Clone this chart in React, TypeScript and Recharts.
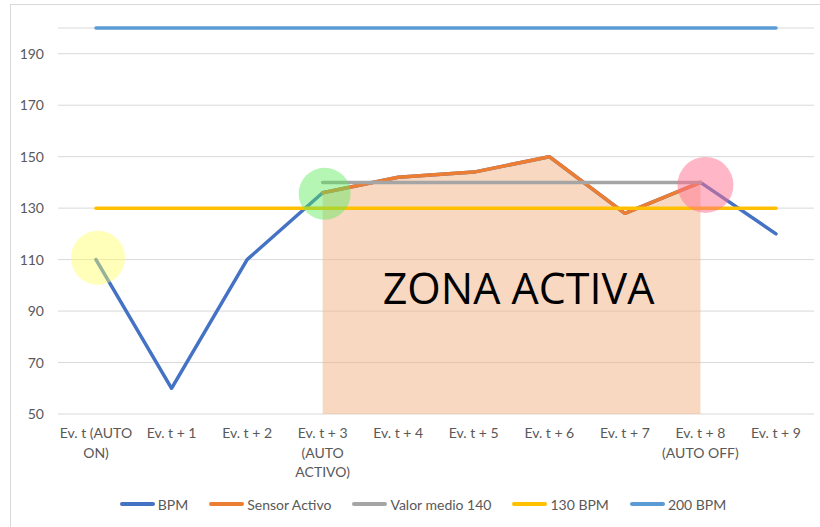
import React from 'react';
import {
  ComposedChart,
  Line,
  Area,
  XAxis,
  YAxis,
  CartesianGrid,
  ReferenceDot,
  ReferenceArea,
  Legend,
} from 'recharts';

const categories = [
  'Ev. t (AUTO ON)',
  'Ev. t + 1',
  'Ev. t + 2',
  'Ev. t + 3 (AUTO ACTIVO)',
  'Ev. t + 4',
  'Ev. t + 5',
  'Ev. t + 6',
  'Ev. t + 7',
  'Ev. t + 8 (AUTO OFF)',
  'Ev. t + 9',
];

const tickLines: string[][] = [
  ['Ev. t (AUTO', 'ON)'],
  ['Ev. t + 1'],
  ['Ev. t + 2'],
  ['Ev. t + 3', '(AUTO', 'ACTIVO)'],
  ['Ev. t + 4'],
  ['Ev. t + 5'],
  ['Ev. t + 6'],
  ['Ev. t + 7'],
  ['Ev. t + 8', '(AUTO OFF)'],
  ['Ev. t + 9'],
];

const bpm = [110, 60, 110, 136, 142, 144, 150, 128, 140, 120];
const sensorActivo = [null, null, null, 136, 142, 144, 150, 128, 140, null];
const valorMedio = [null, null, null, 140, 140, 140, 140, 140, 140, null];
const linea130 = [130, 130, 130, 130, 130, 130, 130, 130, 130, 130];
const linea200 = [200, 200, 200, 200, 200, 200, 200, 200, 200, 200];

const yTicks = [50, 70, 90, 110, 130, 150, 170, 190];

const seriesNames = ['BPM', 'Sensor Activo', 'Valor medio 140', '130 BPM', '200 BPM'];
const seriesColors = ['#4472C4', '#ED7D31', '#A5A5A5', '#FFC000', '#5B9BD5'];

const zoneLabel = 'ZONA ACTIVA';

const data = categories.map((c, i) => ({
  cat: c,
  bpm: bpm[i],
  sensor: sensorActivo[i],
  medio: valorMedio[i],
  l130: linea130[i],
  l200: linea200[i],
}));

const FONT = 'Lato, "Open Sans", sans-serif';
const TEXT_COLOR = '#595959';
const LINE_W = 3.5;

const XTick = (props: any) => {
  const { x, y, payload } = props;
  const idx = categories.indexOf(payload.value);
  const lines = idx >= 0 ? tickLines[idx] : [String(payload.value)];
  return (
    <text x={x} y={y} textAnchor="middle" fill={TEXT_COLOR} fontSize={14} fontFamily={FONT}>
      {lines.map((l, i) => (
        <tspan key={i} x={x} dy={i === 0 ? 16 : 19.5}>
          {l}
        </tspan>
      ))}
    </text>
  );
};

const makeCircle = (shiftX: number) => (props: any) => {
  const { cx, cy, r, fill, fillOpacity } = props;
  return <circle cx={cx + shiftX} cy={cy} r={r} fill={fill} fillOpacity={fillOpacity} stroke="none" />;
};

const renderLegend = () => (
  <div
    style={{
      display: 'flex',
      justifyContent: 'center',
      alignItems: 'center',
      paddingLeft: 22,
      height: 30,
      fontFamily: FONT,
      fontSize: 14,
      color: TEXT_COLOR,
    }}
  >
    {seriesNames.map((n, i) => (
      <div
        key={n}
        style={{ display: 'flex', alignItems: 'center', marginRight: i < seriesNames.length - 1 ? 21 : 0 }}
      >
        <div
          style={{
            width: 35,
            height: 3.5,
            background: seriesColors[i],
            borderRadius: 2,
            marginRight: 3,
          }}
        />
        <span>{n}</span>
      </div>
    ))}
  </div>
);

export default function App() {
  return (
    <div
      style={{
        position: 'absolute',
        left: 0,
        top: 0,
        width: 820,
        height: 527,
        overflow: 'hidden',
        background: '#fff',
      }}
    >
      <div
        style={{
          position: 'absolute',
          left: 10,
          top: 4,
          width: 840,
          height: 560,
          border: '1px solid #D9D9D9',
          boxSizing: 'border-box',
        }}
      />
      <div style={{ position: 'absolute', left: 0, top: 0 }}>
        <ComposedChart
          width={820}
          height={527}
          data={data}
          margin={{ top: 28, right: 6, left: 10, bottom: 8 }}
        >
          <CartesianGrid vertical={false} stroke="#D9D9D9" strokeWidth={1} />
          <XAxis
            dataKey="cat"
            axisLine={false}
            tickLine={false}
            padding={{ left: 38, right: 38 }}
            height={75}
            interval={0}
            tick={<XTick />}
            tickMargin={2}
          />
          <YAxis
            domain={[50, 200]}
            ticks={yTicks}
            axisLine={false}
            tickLine={false}
            width={48}
            tickMargin={8}
            tick={{ fill: TEXT_COLOR, fontSize: 14, fontFamily: FONT }}
          />
          <Area
            dataKey="sensor"
            type="linear"
            stroke="none"
            fill="#F4B183"
            fillOpacity={0.5}
            isAnimationActive={false}
            activeDot={false}
            legendType="none"
          />
          <Line
            dataKey="bpm"
            name={seriesNames[0]}
            stroke={seriesColors[0]}
            strokeWidth={LINE_W}
            dot={false}
            activeDot={false}
            isAnimationActive={false}
            strokeLinecap="round"
            strokeLinejoin="round"
          />
          <Line
            dataKey="sensor"
            name={seriesNames[1]}
            stroke={seriesColors[1]}
            strokeWidth={LINE_W}
            dot={false}
            activeDot={false}
            isAnimationActive={false}
            strokeLinecap="round"
            strokeLinejoin="round"
          />
          <Line
            dataKey="medio"
            name={seriesNames[2]}
            stroke={seriesColors[2]}
            strokeWidth={LINE_W}
            dot={false}
            activeDot={false}
            isAnimationActive={false}
            strokeLinecap="round"
          />
          <Line
            dataKey="l130"
            name={seriesNames[3]}
            stroke={seriesColors[3]}
            strokeWidth={LINE_W}
            dot={false}
            activeDot={false}
            isAnimationActive={false}
            strokeLinecap="round"
          />
          <Line
            dataKey="l200"
            name={seriesNames[4]}
            stroke={seriesColors[4]}
            strokeWidth={LINE_W}
            dot={false}
            activeDot={false}
            isAnimationActive={false}
            strokeLinecap="round"
          />
          <ReferenceArea
            x1={categories[3]}
            x2={categories[8]}
            y1={90}
            y2={107}
            fill="none"
            fillOpacity={0}
            stroke="none"
            label={{
              value: zoneLabel,
              position: 'center',
              fontSize: 43,
              fill: '#000',
              fontFamily: '"Open Sans", sans-serif',
              dx: 7,
            }}
          />
          <ReferenceDot
            x={categories[0]}
            y={110.7}
            r={27}
            fill="#FFFF66"
            fillOpacity={0.45}
            stroke="none"
            shape={makeCircle(2)}
          />
          <ReferenceDot
            x={categories[3]}
            y={135.6}
            r={26}
            fill="#5CEB5C"
            fillOpacity={0.45}
            stroke="none"
            shape={makeCircle(2)}
          />
          <ReferenceDot
            x={categories[8]}
            y={139}
            r={28}
            fill="#FF7090"
            fillOpacity={0.5}
            stroke="none"
            shape={makeCircle(5)}
          />
          <Legend verticalAlign="bottom" content={renderLegend} />
        </ComposedChart>
      </div>
    </div>
  );
}
